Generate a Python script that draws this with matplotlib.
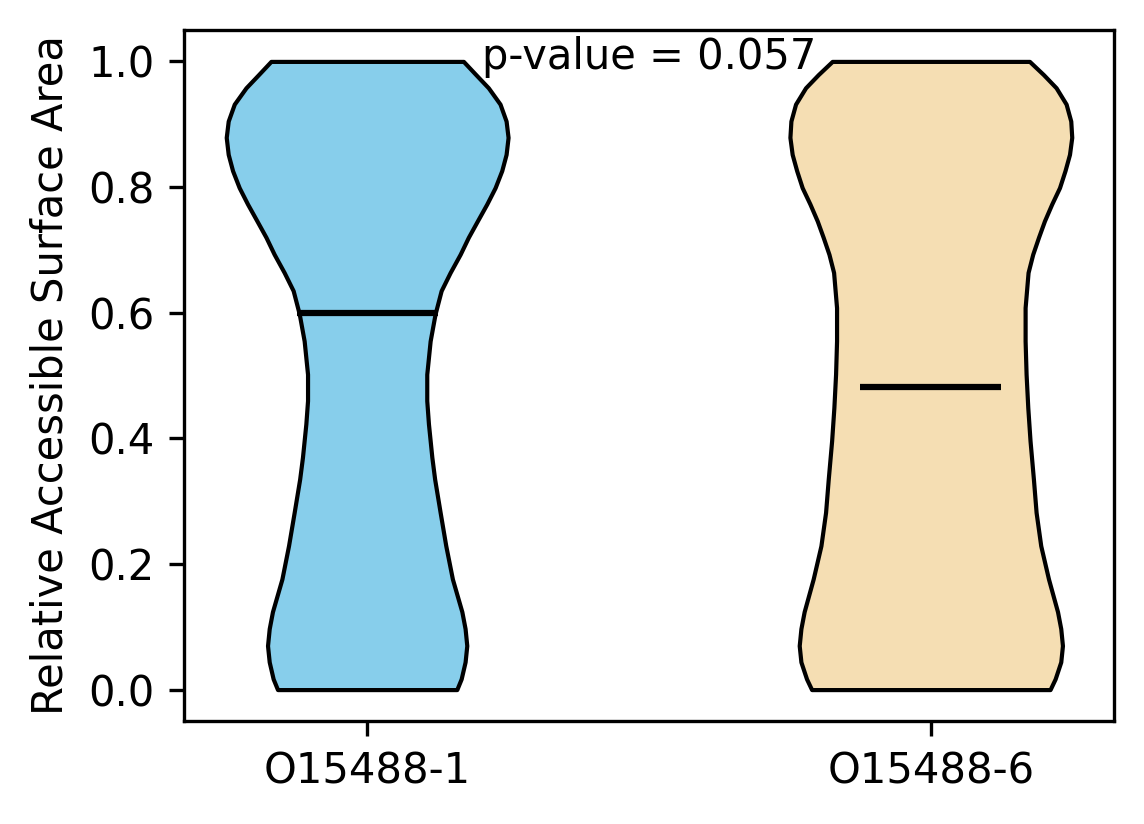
import matplotlib
matplotlib.use("Agg")
import matplotlib.pyplot as plt
import numpy as np

# grupos e valores
grupos = ["O15488-1", "O15488-6"]
medianas = [0.599, 0.482]
cores = ["#87CEEB", "#F5DEB3"]
p_valor = 0.057

# perfil (densidade relativa) de cada violino
y_esq = [0.000, 0.017, 0.044, 0.070, 0.097, 0.124, 0.176, 0.229, 0.282, 0.335, 0.370,
         0.423, 0.460, 0.502, 0.555, 0.598, 0.635, 0.664, 0.693, 0.720, 0.746, 0.773,
         0.799, 0.826, 0.852, 0.879, 0.905, 0.932, 0.958, 0.979, 1.000]
dens_esq = [0.636, 0.667, 0.695, 0.707, 0.695, 0.672, 0.605, 0.558, 0.518, 0.479, 0.459,
            0.435, 0.423, 0.423, 0.447, 0.482, 0.525, 0.589, 0.660, 0.718, 0.782, 0.849,
            0.908, 0.955, 0.986, 1.000, 0.986, 0.943, 0.860, 0.771, 0.683]

y_dir = [0.000, 0.017, 0.044, 0.070, 0.097, 0.124, 0.176, 0.229, 0.282, 0.335, 0.396,
         0.449, 0.502, 0.555, 0.608, 0.664, 0.693, 0.720, 0.746, 0.773, 0.799, 0.826,
         0.852, 0.879, 0.905, 0.932, 0.958, 0.979, 1.000]
dens_dir = [0.846, 0.882, 0.922, 0.934, 0.922, 0.899, 0.835, 0.780, 0.747, 0.728, 0.704,
            0.688, 0.676, 0.669, 0.669, 0.690, 0.723, 0.764, 0.806, 0.858, 0.913, 0.952,
            0.984, 1.000, 0.993, 0.960, 0.889, 0.799, 0.700]

def montar_stats(coords, vals, mediana):
    return {"coords": np.array(coords), "vals": np.array(vals),
            "mean": mediana, "median": mediana,
            "min": min(coords), "max": max(coords)}

vpstats = [montar_stats(y_esq, dens_esq, medianas[0]),
           montar_stats(y_dir, dens_dir, medianas[1])]

fig, ax = plt.subplots(figsize=(1144 / 300, 824 / 300), dpi=300)
fig.subplots_adjust(left=0.1608, right=0.9738, top=0.9636, bottom=0.125)

partes = ax.violin(vpstats, positions=[1, 2], widths=0.5,
                   showmeans=False, showextrema=False, showmedians=True)
for corpo, cor in zip(partes["bodies"], cores):
    corpo.set_facecolor(cor)
    corpo.set_edgecolor("black")
    corpo.set_linewidth(1.0)
    corpo.set_joinstyle("round")
    corpo.set_alpha(1)
partes["cmedians"].set_color("black")
partes["cmedians"].set_linewidth(1.5)

ax.set_xticks([1, 2])
ax.set_xticklabels(grupos)
ax.set_ylabel("Relative Accessible Surface Area")
ax.text(1.5, 1.04, f"p-value = {p_valor}", ha="center", va="top", fontsize=10)

fig.savefig("out.png", dpi=300)
